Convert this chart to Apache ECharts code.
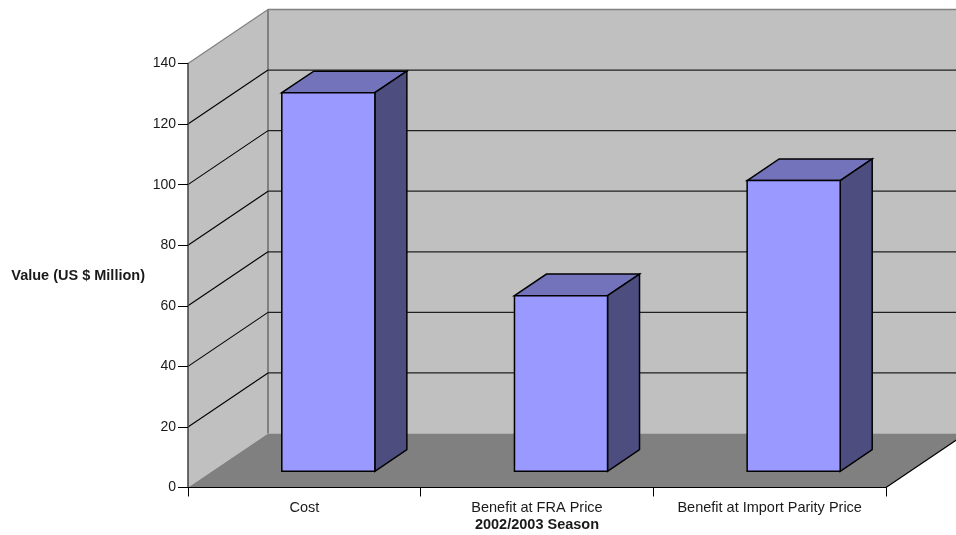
<!DOCTYPE html>
<html>
<head>
<meta charset="utf-8">
<style>html,body{margin:0;padding:0;background:#fff}#chart{width:956px;height:535px}</style>
<script src="https://cdn.jsdelivr.net/npm/echarts@6/dist/echarts.min.js"></script>
</head>
<body>
<div id="chart"></div>
<script>
const categories = ['Cost', 'Benefit at FRA Price', 'Benefit at Import Parity Price'];
const values = [125, 58, 96];
const yTicks = [20, 40, 60, 80, 100, 120];

// Oblique projection used for the box: how far the back wall sits from the front plane.
const DEPTH_X = 80;
const DEPTH_Y = -54;
const BAR_NEAR = 0.3;   // bar front face, as a share of the depth
const BAR_FAR = 0.7;    // bar back face
const BAR_WIDTH = 0.4;  // bar width, as a share of the category band

const shift = (p, d) => [p[0] + DEPTH_X * d, p[1] + DEPTH_Y * d];
const poly = (points, fill, stroke, lineWidth) => ({
  type: 'polygon',
  shape: { points },
  style: { fill, stroke: stroke || 'none', lineWidth: lineWidth || 0 }
});
const line = (a, b, stroke, lineWidth) => ({
  type: 'line',
  shape: { x1: a[0], y1: a[1], x2: b[0], y2: b[1] },
  style: { stroke, lineWidth }
});

// Side wall, back wall and floor of the box.
function renderWalls(params, api) {
  const c = params.coordSys;
  const fb = [c.x, c.y + c.height];
  const ft = [c.x, c.y];
  const rb = [c.x + c.width, c.y + c.height];
  const bb = shift(fb, 1), bt = shift(ft, 1), rbb = shift(rb, 1), rbt = [rbb[0], bt[1]];
  return {
    type: 'group',
    children: [
      poly([bt, rbt, rbb, bb], '#c0c0c0'),
      poly([ft, bt, bb, fb], '#c0c0c0'),
      poly([fb, bb, rbb, rb], '#808080'),
      line(ft, bt, '#808080', 1.2),
      line(bt, rbt, '#808080', 1.5),
      line(bt, bb, '#808080', 2),
      line(rb, rbb, '#000000', 1.2)
    ]
  };
}

// One gridline per tick: across the side wall, then along the back wall.
function renderGrid(params, api) {
  const c = params.coordSys;
  const y = api.coord([0, api.value(0)])[1];
  const a = [c.x, y], b = shift(a, 1), e = [c.x + c.width + DEPTH_X, b[1]];
  return {
    type: 'group',
    children: [line(a, b, '#000000', 1.1), line(b, e, '#202020', 1.2)]
  };
}

// Three visible faces of a column, from its category and value.
function renderBar(params, api) {
  const band = api.size([1, 0])[0];
  const center = api.coord([api.value(0), 0])[0];
  const baseY = api.coord([api.value(0), 0])[1];
  const topY = api.coord([api.value(0), api.value(1)])[1];
  const half = band * BAR_WIDTH / 2;
  const fbl = shift([center - half, baseY], BAR_NEAR);
  const fbr = shift([center + half, baseY], BAR_NEAR);
  const ftl = shift([center - half, topY], BAR_NEAR);
  const ftr = shift([center + half, topY], BAR_NEAR);
  const bbr = shift([center + half, baseY], BAR_FAR);
  const btr = shift([center + half, topY], BAR_FAR);
  const btl = shift([center - half, topY], BAR_FAR);
  return {
    type: 'group',
    children: [
      poly([ftl, btl, btr, ftr], '#7373bb', '#000000', 1.5),
      poly([ftr, btr, bbr, fbr], '#4d4d80', '#000000', 1.5),
      poly([ftl, ftr, fbr, fbl], '#9999ff', '#000000', 1.5)
    ]
  };
}

const font = { fontFamily: 'Liberation Sans, Arial, sans-serif', fontSize: 14, color: '#1a1a1a' };

const chart = echarts.init(document.getElementById('chart'), null, { renderer: 'canvas' });
chart.setOption({
  animation: false,
  backgroundColor: '#ffffff',
  grid: { left: 188, top: 63.5, width: 698, height: 424, outerBoundsMode: 'none' },
  xAxis: {
    type: 'category',
    data: categories,
    z: 5,
    name: '2002/2003 Season',
    nameLocation: 'middle',
    nameGap: 30,
    nameMoveOverlap: false,
    nameTextStyle: { ...font, fontSize: 14.5, fontWeight: 'bold' },
    axisLine: { lineStyle: { color: '#000000', width: 1 } },
    axisTick: { show: true, alignWithLabel: false, length: 9, lineStyle: { color: '#000000' } },
    axisLabel: { ...font, fontSize: 14.5, margin: 13, interval: 0 }
  },
  yAxis: {
    type: 'value',
    min: 0,
    max: 140,
    interval: 20,
    z: 5,
    name: 'Value (US $ Million)',
    nameLocation: 'middle',
    nameRotate: 0,
    nameGap: 43,
    nameMoveOverlap: false,
    nameTextStyle: { ...font, fontSize: 14.5, fontWeight: 'bold' },
    splitLine: { show: false },
    axisLine: { show: true, lineStyle: { color: '#404040', width: 1.5 } },
    axisTick: { show: true, length: 10, lineStyle: { color: '#000000' } },
    axisLabel: { ...font, margin: 12 }
  },
  series: [
    { type: 'custom', z: 1, silent: true, renderItem: renderWalls, data: [[0, 0]], encode: { x: 0, y: 1 } },
    { type: 'custom', z: 2, silent: true, renderItem: renderGrid, data: yTicks.map(v => [v]), encode: { y: 0 } },
    {
      type: 'custom',
      z: 3,
      renderItem: renderBar,
      data: values.map((v, i) => [i, v]),
      encode: { x: 0, y: 1 }
    }
  ]
});
</script>
</body>
</html>
